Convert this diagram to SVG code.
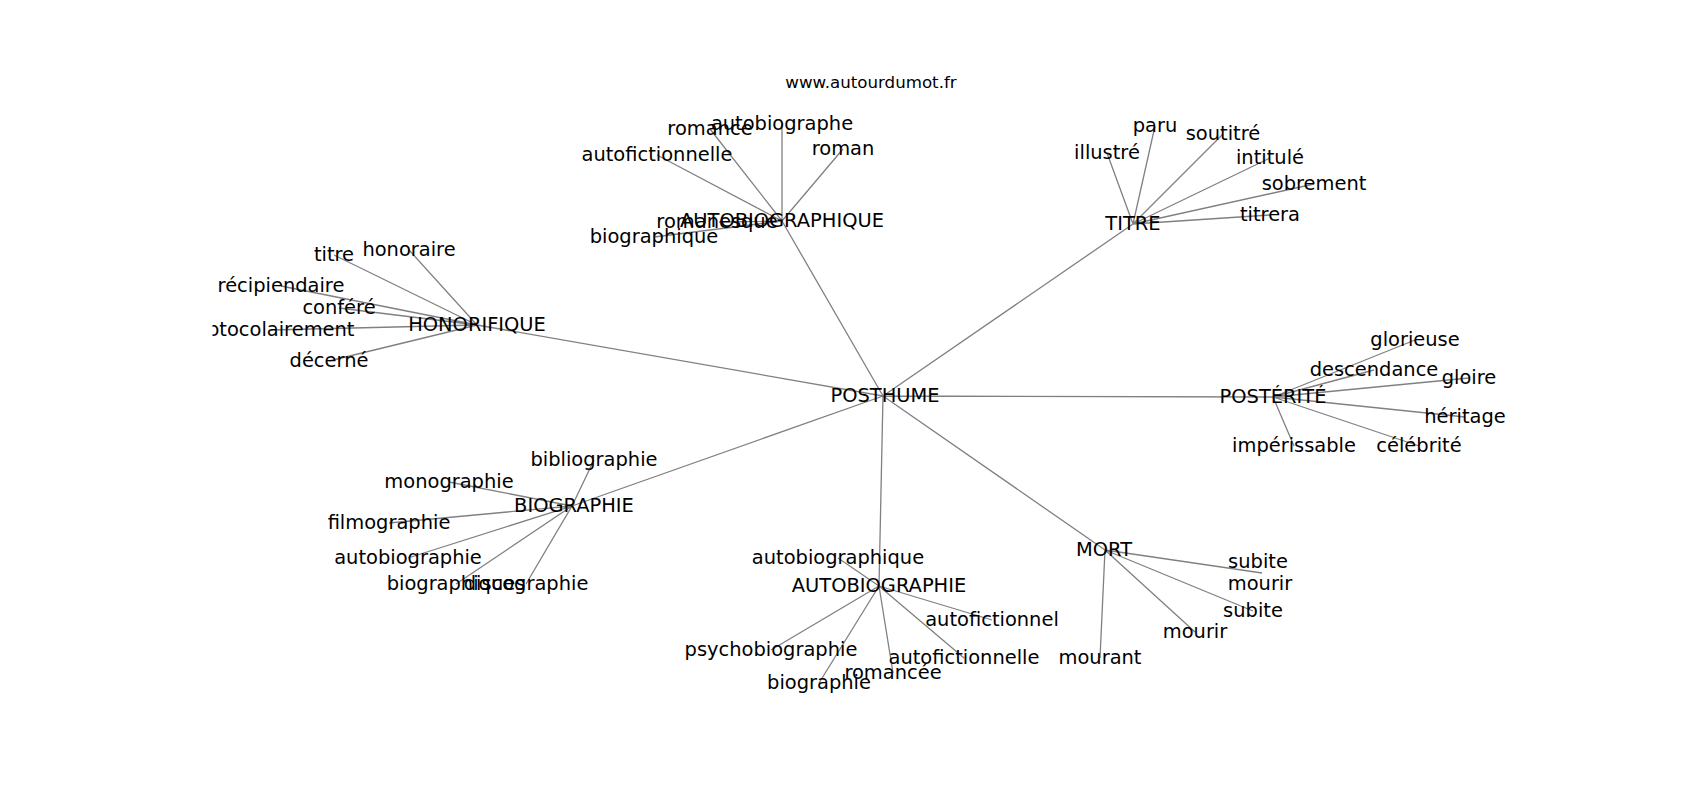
<svg xmlns="http://www.w3.org/2000/svg" width="1700" height="800" viewBox="0 0 1700 800">
<style>
.e{stroke:#808080;stroke-width:1.3;fill:none}
text{font-family:"DejaVu Sans",sans-serif;font-size:19.44px;fill:#000;text-anchor:middle}
.t{font-size:16.67px}
</style>
<defs><clipPath id="ax"><rect x="212.5" y="96" width="1317.5" height="616"/></clipPath></defs>
<rect width="1700" height="800" fill="#fff"/>
<g id="edges" class="e" clip-path="url(#ax)">
<path d="M883 396L782 221M883 396L477 325M883 396L1133 224M883 396L1273 397M883 396L572 506M883 396L879 586M883 396L1105 550"/>
<path d="M782 221L782 124M782 221L710 129M782 221L657 155M782 221L843 149M782 221L719 222M782 221L654 237"/>
<path d="M477 325L334 255M477 325L409 250M477 325L281 286M477 325L339 308M477 325L271 330M477 325L329 361"/>
<path d="M1133 224L1107 153M1133 224L1155 126M1133 224L1223 134M1133 224L1270 158M1133 224L1314 184M1133 224L1270 215"/>
<path d="M1273 397L1415 340M1273 397L1374 370M1273 397L1469 378M1273 397L1465 417M1273 397L1419 446M1273 397L1294 446"/>
<path d="M572 506L594 460M572 506L449 482M572 506L389 523M572 506L408 558M572 506L456 584M572 506L526 584"/>
<path d="M879 586L838 558M879 586L992 620M879 586L771 650M879 586L819 683M879 586L893 673M879 586L964 658"/>
<path d="M1105 550L1262 573M1105 550L1253 611M1105 550L1195 632M1105 550L1100 658"/>
</g>
<text class="t" x="871" y="87.5">www.autourdumot.fr</text>
<g clip-path="url(#ax)">
<g id="n-posthume"><text x="885" y="402">POSTHUME</text></g>
<g id="n-autobiographique"><text x="782" y="227">AUTOBIOGRAPHIQUE</text></g>
<g id="n-autobiographe"><text x="782" y="130">autobiographe</text></g>
<g id="n-romance"><text x="710" y="135">romance</text></g>
<g id="n-autofictionnelle1"><text x="657" y="161">autofictionnelle</text></g>
<g id="n-roman"><text x="843" y="155">roman</text></g>
<g id="n-romanesque"><text x="717" y="228">romanesque</text></g>
<g id="n-biographique"><text x="654" y="243">biographique</text></g>
<g id="n-honorifique"><text x="477" y="331">HONORIFIQUE</text></g>
<g id="n-titre"><text x="334" y="261">titre</text></g>
<g id="n-honoraire"><text x="409" y="256">honoraire</text></g>
<g id="n-recipiendaire"><text x="281" y="292">récipiendaire</text></g>
<g id="n-confere"><text x="339" y="314">conféré</text></g>
<g id="n-protocolairement"><text x="271" y="336">protocolairement</text></g>
<g id="n-decerne"><text x="329" y="367">décerné</text></g>
<g id="n-titre-hub"><text x="1133" y="230">TITRE</text></g>
<g id="n-illustre"><text x="1107" y="159">illustré</text></g>
<g id="n-paru"><text x="1155" y="132">paru</text></g>
<g id="n-soutitre"><text x="1223" y="140">soutitré</text></g>
<g id="n-intitule"><text x="1270" y="164">intitulé</text></g>
<g id="n-sobrement"><text x="1314" y="190">sobrement</text></g>
<g id="n-titrera"><text x="1270" y="221">titrera</text></g>
<g id="n-posterite"><text x="1273" y="403">POSTÉRITÉ</text></g>
<g id="n-glorieuse"><text x="1415" y="346">glorieuse</text></g>
<g id="n-descendance"><text x="1374" y="376">descendance</text></g>
<g id="n-gloire"><text x="1469" y="384">gloire</text></g>
<g id="n-heritage"><text x="1465" y="423">héritage</text></g>
<g id="n-celebrite"><text x="1419" y="452">célébrité</text></g>
<g id="n-imperissable"><text x="1294" y="452">impérissable</text></g>
<g id="n-biographie-hub"><text x="574" y="512">BIOGRAPHIE</text></g>
<g id="n-bibliographie"><text x="594" y="466">bibliographie</text></g>
<g id="n-monographie"><text x="449" y="488">monographie</text></g>
<g id="n-filmographie"><text x="389" y="529">filmographie</text></g>
<g id="n-autobiographie"><text x="408" y="564">autobiographie</text></g>
<g id="n-biographiques"><text x="456" y="590">biographiques</text></g>
<g id="n-discographie"><text x="526" y="590">discographie</text></g>
<g id="n-autobiographie-hub"><text x="879" y="592">AUTOBIOGRAPHIE</text></g>
<g id="n-autobiographique2"><text x="838" y="564">autobiographique</text></g>
<g id="n-autofictionnel"><text x="992" y="626">autofictionnel</text></g>
<g id="n-psychobiographie"><text x="771" y="656">psychobiographie</text></g>
<g id="n-biographie"><text x="819" y="689">biographie</text></g>
<g id="n-romancee"><text x="893" y="679">romancée</text></g>
<g id="n-autofictionnelle2"><text x="964" y="664">autofictionnelle</text></g>
<g id="n-mort"><text x="1104" y="556">MORT</text></g>
<g id="n-subite1"><text x="1258" y="568">subite</text></g>
<g id="n-mourir1"><text x="1260" y="590">mourir</text></g>
<g id="n-subite2"><text x="1253" y="617">subite</text></g>
<g id="n-mourir2"><text x="1195" y="638">mourir</text></g>
<g id="n-mourant"><text x="1100" y="664">mourant</text></g>
</g>
</svg>
